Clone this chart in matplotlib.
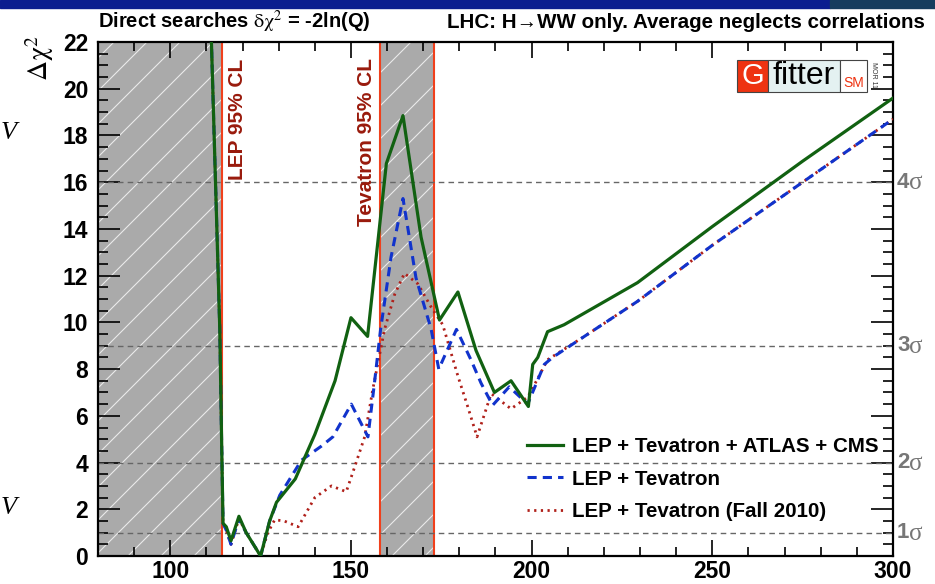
import numpy as np
import matplotlib
matplotlib.use("Agg")
import matplotlib.pyplot as plt
from matplotlib.patches import Rectangle
from matplotlib.collections import LineCollection

plt.rcParams['font.family'] = ['Liberation Sans', 'DejaVu Sans']
plt.rcParams['mathtext.fontset'] = 'stix'

# ---------------- data ----------------
green_x = [111.2, 112.5, 113.7, 114.2, 114.6, 115.5, 116.8, 119.0, 121.0, 125.0, 127.5, 129.4,
           134.6, 140.0, 145.6, 150.0, 154.6, 159.8, 164.4, 169.4, 174.5, 179.6, 184.6,
           189.7, 194.3, 199.1, 200.3, 201.7, 204.4, 209.0, 229.3, 250.0, 275.0, 300.0]
green_y = [23.0, 16.1, 9.7, 5.0, 1.4, 1.25, 0.65, 1.7, 1.0, 0.0, 1.5, 2.3,
           3.3, 5.2, 7.5, 10.2, 9.4, 16.8, 18.85, 13.65, 10.1, 11.3, 8.8,
           7.0, 7.5, 6.4, 8.2, 8.5, 9.6, 9.9, 11.7, 14.1, 16.9, 19.6]

blue_x = [111.2, 112.5, 113.7, 114.2, 114.6, 115.5, 116.8, 119.0, 121.0, 125.0, 127.5, 130.3,
          136.3, 141.8, 145.0, 150.1, 154.7, 156.5, 158.2, 161.1, 164.4, 168.0, 172.2,
          174.3, 179.2, 183.2, 186.0, 189.2, 193.8, 198.9, 203.5, 205.8, 214.6, 229.3,
          250.0, 275.0, 300.0]
blue_y = [23.0, 16.1, 9.7, 5.0, 1.4, 1.1, 0.5, 1.6, 1.0, 0.0, 1.5, 2.6,
          4.1, 4.7, 5.1, 6.5, 5.1, 7.4, 9.7, 12.8, 15.3, 11.9, 9.7,
          8.0, 9.7, 8.4, 7.4, 6.45, 7.24, 6.5, 8.2, 8.5, 9.4, 10.9,
          13.3, 16.0, 18.7]

red_x = [111.2, 112.5, 113.7, 114.2, 114.6, 115.5, 116.8, 119.0, 121.0, 125.0, 127.0, 128.9,
         131.5, 135.4, 140.0, 144.6, 148.7, 151.0, 153.8, 156.0, 159.3, 162.1, 164.8,
         168.5, 172.2, 175.4, 179.6, 182.3, 184.9, 188.8, 194.3, 198.9, 201.7, 204.4,
         214.6, 229.3, 250.0, 275.0, 300.0]
red_y = [23.0, 16.1, 9.7, 5.0, 1.4, 1.1, 0.5, 1.6, 1.0, 0.0, 1.0, 1.55,
         1.5, 1.25, 2.5, 3.0, 2.75, 3.8, 5.1, 7.1, 9.7, 11.2, 12.1,
         11.65, 10.65, 9.9, 7.7, 6.4, 5.1, 6.95, 6.3, 6.8, 7.6, 8.4,
         9.4, 10.9, 13.3, 16.0, 18.7]

labels = ["LEP + Tevatron + ATLAS + CMS", "LEP + Tevatron", "LEP + Tevatron (Fall 2010)"]
excluded_bands = [(80.0, 114.4), (158.0, 173.0)]
cl_lines = [114.4, 158.0, 173.0]
sigma_levels = [1, 4, 9, 16]
sigma_labels = ["1", "2", "3", "4"]
x_ticks = [100, 150, 200, 250, 300]
y_ticks = list(range(0, 23, 2))

# ---------------- figure ----------------
W, H = 935, 584
fig = plt.figure(figsize=(W / 100, H / 100), dpi=100)
L, R, B, T = 98, 893, 556, 42
ax = fig.add_axes([L / W, (H - B) / H, (R - L) / W, (B - T) / H])
ax.set_xlim(80, 300)
ax.set_ylim(0, 22)

# top slide band
fig.patches.append(Rectangle((0, 1 - 8 / H), 830 / W, 8 / H, transform=fig.transFigure,
                             color='#0b1d8f', zorder=0))
fig.patches.append(Rectangle((830 / W, 1 - 8 / H), 1 - 830 / W, 8 / H, transform=fig.transFigure,
                             color='#163d5e', zorder=0))

# excluded bands with sparse white hatch
aw, ah = (R - L), (B - T)
for x0, x1 in excluded_bands:
    p = ax.axvspan(x0, x1, facecolor='#aaaaaa', edgecolor='none', zorder=1)
    segs = []
    spacing = 33.0 / aw
    for c in np.arange(-1.0, 1.2, spacing):
        segs.append([(c, 0.0), (c + ah / aw, 1.0)])
    lc = LineCollection(segs, colors='white', linewidths=0.8, alpha=0.75,
                        transform=ax.transAxes, zorder=1.5)
    ax.add_collection(lc)
    lc.set_clip_path(p)

for xv in cl_lines:
    ax.axvline(xv, color='#f0401c', lw=1.5, zorder=2)

for lv in sigma_levels:
    ax.axhline(lv, color='#666666', lw=1.0, ls=(0, (4, 3)), zorder=2)

ax.plot(red_x, red_y, color='#b0201a', lw=2.0, ls=(0, (0.8, 1.6)), label=labels[2], zorder=3)
ax.plot(blue_x, blue_y, color='#1133cc', lw=2.2, ls=(0, (3, 2)), label=labels[1], zorder=4)
ax.plot(green_x, green_y, color='#116111', lw=2.3, label=labels[0], zorder=5)

h, lab = ax.get_legend_handles_labels()
order = [2, 1, 0]
leg = ax.legend([h[i] for i in order], [lab[i] for i in order], loc='upper left',
                bbox_to_anchor=((527 - L) / aw, (B - 437) / ah), frameon=False,
                prop={'weight': 'bold', 'size': 14.8}, handlelength=1.75, handletextpad=0.45,
                labelspacing=0.66, borderpad=0, borderaxespad=0)

# ticks
ax.set_xticks(x_ticks)
ax.set_xticks(np.arange(80, 301, 10), minor=True)
ax.set_yticks(y_ticks)
ax.set_yticks(np.arange(0, 22.01, 0.5), minor=True)
ax.tick_params(which='both', direction='in', top=True, right=True, width=1.2, colors='black')
ax.tick_params(axis='x', which='major', length=11.5, pad=3)
ax.tick_params(axis='x', which='minor', length=6.5)
ax.tick_params(axis='y', which='major', length=16, pad=7)
ax.tick_params(axis='y', which='minor', length=7.5)
for t in ax.get_xticklabels() + ax.get_yticklabels():
    t.set_fontweight('bold')
    t.set_fontsize(16.5)
for s in ax.spines.values():
    s.set_linewidth(1.6)

# vertical CL texts
ax.text(118.6, 21.3, "LEP 95% CL", rotation=90, va='top', ha='center', color='#991a0c',
        fontsize=15, fontweight='bold', zorder=6)
ax.text(154.3, 21.3, "Tevatron 95% CL", rotation=90, va='top', ha='center', color='#991a0c',
        fontsize=15, fontweight='bold', zorder=6)

# sigma labels on right
for lv, s in zip(sigma_levels, sigma_labels):
    ax.annotate(s, xy=(1.0, lv), xycoords=('axes fraction', 'data'), xytext=(4, 0),
                textcoords='offset pixels', ha='left', va='center', color='#777777',
                fontsize=16, fontweight='bold', annotation_clip=False)
    ax.annotate("\u03c3", xy=(1.0, lv), xycoords=('axes fraction', 'data'), xytext=(16, -1),
                textcoords='offset pixels', ha='left', va='center', color='#777777',
                fontsize=18, family='Liberation Serif', annotation_clip=False)

# header texts
fig.text(L / W, 1 - 22 / H, r"Direct searches $\mathrm{\delta\chi}^{2}$ = -2ln(Q)", ha='left',
         va='center', fontsize=14.5, fontweight='bold')
fig.text(925 / W, 1 - 22 / H, "LHC: H\u2192WW only. Average neglects correlations", ha='right',
         va='center', fontsize=14.8, fontweight='bold')
fig.text(40 / W, 1 - 58 / H, r"$\mathrm{\Delta\chi}^{2}$", rotation=90, ha='center', va='center',
         fontsize=20)

# slide letters on left edge
fig.text(1 / W, 1 - 133 / H, "V", style='italic', fontsize=19, ha='left', va='center',
         family='Liberation Serif')
fig.text(1 / W, 1 - 508 / H, "V", style='italic', fontsize=19, ha='left', va='center',
         family='Liberation Serif')

# Gfitter logo
def fx(px):
    return (px - L) / aw

def fy(py):
    return (B - py) / ah

ly0, ly1 = fy(92), fy(60)
ax.add_patch(Rectangle((fx(737), ly0), fx(768) - fx(737), ly1 - ly0, transform=ax.transAxes,
                       facecolor='#ee3311', edgecolor='#444444', lw=0.8, zorder=7))
ax.add_patch(Rectangle((fx(768), ly0), fx(840) - fx(768), ly1 - ly0, transform=ax.transAxes,
                       facecolor='#e4f1f1', edgecolor='#444444', lw=0.8, zorder=7))
ax.add_patch(Rectangle((fx(840), ly0), fx(867) - fx(840), ly1 - ly0, transform=ax.transAxes,
                       facecolor='white', edgecolor='#444444', lw=0.8, zorder=7))
ym = (ly0 + ly1) / 2
ax.text((fx(737) + fx(768)) / 2, ym, "G", color='white', fontsize=21, ha='center', va='center',
        transform=ax.transAxes, zorder=8)
ax.text((fx(768) + fx(840)) / 2, ym, "fitter", color='black', fontsize=23, ha='center',
        va='center', transform=ax.transAxes, zorder=8)
ax.text((fx(840) + fx(867)) / 2, fy(83), "SM", color='#ee3311', fontsize=10, ha='center',
        va='center', transform=ax.transAxes, zorder=8)
ax.text(fx(874), fy(75), "MOR 11", color='#333333', fontsize=5, rotation=-90, ha='center',
        va='center', transform=ax.transAxes, zorder=8)

fig.savefig("out.png", dpi=100)
